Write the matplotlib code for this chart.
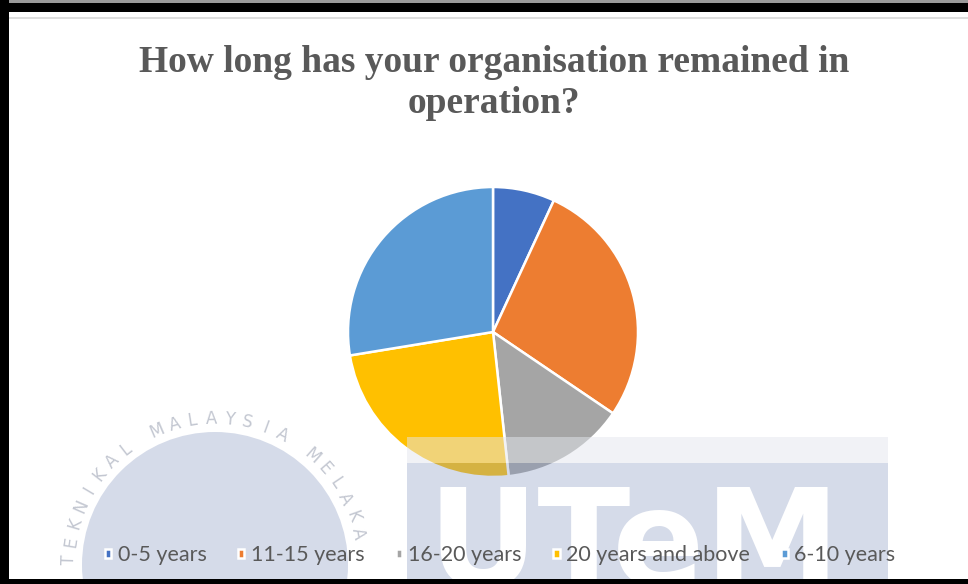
import numpy as np
import matplotlib
matplotlib.use("Agg")
import matplotlib.pyplot as plt
from matplotlib.patches import Rectangle, Circle

# survey answers (number of organisations)
categories = ["0-5 years", "11-15 years", "16-20 years", "20 years and above", "6-10 years"]
counts = [2, 8, 4, 7, 8]
colors = ["#4472C4", "#ED7D31", "#A5A5A5", "#FFC000", "#5B9BD5"]
title = "How long has your organisation remained in\noperation?"

W, H = 968, 584
fig = plt.figure(figsize=(W / 100, H / 100), dpi=100)
fig.patch.set_facecolor("white")

# pie: centre ~(493, 332) px, radius ~145 px
cx, cy, r = 493, 332, 145
ax = fig.add_axes([(cx - r) / W, (H - cy - r) / H, 2 * r / W, 2 * r / H])
wedges, _ = ax.pie(counts, colors=colors, startangle=90, counterclock=False,
                   wedgeprops=dict(edgecolor="white", linewidth=1.8))
ax.set_xlim(-1, 1)
ax.set_ylim(-1, 1)
ax.set_aspect("equal")
ax.axis("off")

fig.text(494 / W, 1 - 83 / H, title, ha="center", va="center",
         fontsize=27, fontweight="bold", family="Liberation Serif",
         color="#595959", linespacing=1.24)

# watermark + frame drawn in pixel coordinates over everything
ov = fig.add_axes([0, 0, 1, 1], zorder=1)
ov.set_xlim(0, W)
ov.set_ylim(H, 0)
ov.axis("off")
ov.patch.set_visible(False)

wm = "#8798c0"
ov.add_patch(Rectangle((407, 437), 481, 26, color="#e4e7ee", alpha=0.5, lw=0))
ov.add_patch(Rectangle((407, 463), 481, 121, color=wm, alpha=0.35, lw=0))
ov.text(428, 586, "UTeM", fontsize=98, fontweight="bold", family="DejaVu Sans",
        color="white", ha="left", va="baseline")
ov.add_patch(Circle((215, 565), 133, color=wm, alpha=0.35, lw=0))
ring = "TEKNIKAL MALAYSIA MELAKA"
for i, ch in enumerate(ring):
    a = np.deg2rad(178 - i * 7.2)
    ov.text(215 + 146 * np.cos(a), 565 - 146 * np.sin(a), ch, fontsize=12,
            color="#c3c7d1", ha="center", va="center",
            rotation=np.rad2deg(a) - 90)

# screenshot frame
ov.add_patch(Rectangle((0, 0), W, 3, color="#9a9a9a", lw=0, zorder=5))
ov.add_patch(Rectangle((0, 3), W, 9, color="black", lw=0, zorder=5))
ov.add_patch(Rectangle((0, 17), W, 2, color="#dedede", lw=0, zorder=5))
ov.add_patch(Rectangle((0, 0), 9, H, color="black", lw=0, zorder=5))
ov.add_patch(Rectangle((0, 579), W, 5, color="black", lw=0, zorder=5))

leg = fig.legend(wedges, categories, loc="center", ncol=5,
                 bbox_to_anchor=(500 / W, 1 - 555 / H), frameon=False,
                 prop={"family": "Lato", "size": 15.5},
                 handlelength=0.3, handleheight=0.3, handletextpad=0.3,
                 columnspacing=1.45, labelcolor="#595959")
leg.set_zorder(10)

fig.savefig("out.png", dpi=100, facecolor="white")
